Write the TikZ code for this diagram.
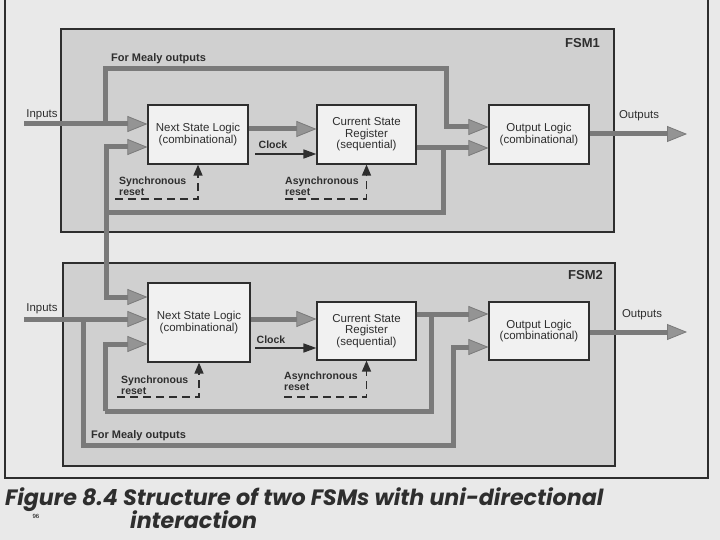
\documentclass[tikz,border=0pt]{standalone}
\usepackage{fontspec}
\setmainfont{Liberation Sans}
\newfontfamily\capfont{Poppins}
\usetikzlibrary{arrows.meta}
\definecolor{pagebg}{gray}{0.915}
\definecolor{fsmfill}{gray}{0.815}
\definecolor{blockfill}{gray}{0.945}
\definecolor{wire}{gray}{0.48}
\definecolor{tipfill}{gray}{0.58}
\definecolor{ink}{gray}{0.18}
\tikzset{
  fsmbox/.style={draw=ink, line width=1.5pt, fill=fsmfill},
  block/.style={draw=ink, line width=1.2pt, fill=blockfill, inner sep=0pt, align=center,
    font=\fontsize{11.5}{11.5}\selectfont, text=ink},
  fatline/.style={draw=wire, line width=5pt, line join=miter},
  fat/.style={fatline, -{Triangle[length=20pt,width=16pt,line width=0.8pt,fill=tipfill]}},
  clockarrow/.style={draw=ink, line width=1.6pt, -{Triangle[length=13pt,width=9pt]}},
  resetarrow/.style={draw=ink, line width=1.4pt, dash pattern=on 8pt off 5pt, -{Triangle[length=11pt,width=9pt]}},
  lbl/.style={font=\fontsize{11.4}{12}\selectfont, text=ink, inner sep=0pt},
  blbl/.style={font=\bfseries\fontsize{10.5}{10.5}\selectfont, text=ink, inner sep=0pt, align=left},
  mealylbl/.style={font=\bfseries\fontsize{11}{11}\selectfont, text=ink, inner sep=0pt},
  fsmlbl/.style={font=\bfseries\fontsize{13}{13}\selectfont, text=ink, inner sep=0pt},
  caption/.style={font=\capfont\bfseries\itshape\fontsize{22.2}{22}\selectfont, text=ink, inner sep=0pt}
}
\begin{document}
\begin{tikzpicture}[x=1pt,y=-1pt]
\useasboundingbox[fill=pagebg] (0,0) rectangle (720,540);
% outer frame
\draw[ink, line width=1.5pt] (5,-5) rectangle (708,478);

% FSM boxes
\node[fsmbox, minimum width=553pt, minimum height=203pt, inner sep=0pt] (fsm1) at (337.5,130.5) {};
\node[fsmbox, minimum width=552pt, minimum height=203pt, inner sep=0pt] (fsm2) at (339,364.5) {};
\node[fsmlbl, anchor=east] (fsm1lbl) at (600,43) {FSM1};
\node[fsmlbl, anchor=east] (fsm2lbl) at (603,275) {FSM2};

% ---------------- FSM1 ----------------
\node[block, minimum width=100pt, minimum height=59pt] (nsl1) at (198,134.5) {Next State Logic\\(combinational)};
\node[block, minimum width=99pt, minimum height=59pt] (csr1) at (366.5,134.5) {Current State\\Register\\(sequential)};
\node[block, minimum width=100pt, minimum height=59pt] (ol1) at (539,134.5) {Output Logic\\(combinational)};

\coordinate (in1) at (24,124);
\coordinate (m1a) at (105,124);
\coordinate (m1b) at (105,69);
\coordinate (m1c) at (446,69);
\coordinate (m1d) at (446,127);
\coordinate (f1) at (443,148);
\coordinate (f1b) at (443,213);
\coordinate (f1c) at (106,213);
\coordinate (f1d) at (106,147);
\coordinate (ck1) at (255,154);
\coordinate (sr1) at (115,199);
\coordinate (sr1b) at (198,199);
\coordinate (ar1) at (285,199);
\coordinate (ar1b) at (366.5,199);
\coordinate (out1) at (687,134);

\draw[fatline] (m1a) -- (m1b) -- (m1c) -- (m1d);
\draw[fat] (m1c) -- (m1d) -- (m1d -| ol1.west);
\draw[fat] (in1) -- (in1 -| nsl1.west);
\draw[fat] (nsl1.east |- 0,129) -- (csr1.west |- 0,129);
\draw[fat] (csr1.east |- f1) -- (f1 -| ol1.west);
\draw[fatline] (f1) -- (f1b) -- (f1c);
\draw[fat] (f1c) -- (f1d) -- (f1d -| nsl1.west);
\draw[fat] (ol1.east |- out1) -- (out1);
\node[lbl] (inlbl1) at (42,115) {Inputs};
\node[lbl] (outlbl1) at (639,116) {Outputs};
\node[mealylbl, anchor=west] (mealy1) at (111,59) {For Mealy outputs};
\node[blbl] (clk1) at (273,145) {Clock};
\draw[clockarrow] (ck1) -- (ck1 -| csr1.west);
\node[blbl, anchor=north west] (srl1) at (119,177) {Synchronous\\reset};
\node[blbl, anchor=north west] (arl1) at (285,177) {Asynchronous\\reset};
\draw[resetarrow] (sr1) -- (sr1b) -- (nsl1.south);
\draw[resetarrow] (ar1) -- (ar1b) -- (csr1.south);

% ---------------- FSM2 ----------------
\node[block, minimum width=102pt, minimum height=79pt] (nsl2) at (199,322.5) {Next State Logic\\(combinational)};
\node[block, minimum width=99pt, minimum height=58pt] (csr2) at (366.5,331) {Current State\\Register\\(sequential)};
\node[block, minimum width=100pt, minimum height=58pt] (ol2) at (539,331) {Output Logic\\(combinational)};

\coordinate (x1) at (106,297);
\coordinate (in2) at (24,319);
\coordinate (m2a) at (83,319);
\coordinate (m2b) at (83,445);
\coordinate (m2c) at (453,445);
\coordinate (m2d) at (453,347);
\coordinate (f2) at (431,314);
\coordinate (f2b) at (431,411);
\coordinate (f2c) at (105,411);
\coordinate (f2d) at (105,344);
\coordinate (ck2) at (255,348);
\coordinate (sr2) at (117,397);
\coordinate (sr2b) at (199,397);
\coordinate (ar2) at (284,397);
\coordinate (ar2b) at (366.5,397);
\coordinate (out2) at (687,332);

% interaction from FSM1 state to FSM2 next state logic
\draw[fat] (f1c) -- (x1) -- (x1 -| nsl2.west);

\draw[fatline] (m2a) -- (m2b) -- (m2c) -- (m2d);
\draw[fat] (m2c) -- (m2d) -- (m2d -| ol2.west);
\draw[fat] (in2) -- (in2 -| nsl2.west);
\draw[fat] (nsl2.east |- 0,319) -- (csr2.west |- 0,319);
\draw[fat] (csr2.east |- f2) -- (f2 -| ol2.west);
\draw[fatline] (f2) -- (f2b) -- (f2c);
\draw[fat] (f2c) -- (f2d) -- (f2d -| nsl2.west);
\draw[fat] (ol2.east |- out2) -- (out2);
\node[lbl] (inlbl2) at (42,309) {Inputs};
\node[lbl] (outlbl2) at (642,315) {Outputs};
\node[mealylbl, anchor=west] (mealy2) at (91,436) {For Mealy outputs};
\node[blbl] (clk2) at (271,340) {Clock};
\draw[clockarrow] (ck2) -- (ck2 -| csr2.west);
\node[blbl, anchor=north west] (srl2) at (121,376) {Synchronous\\reset};
\node[blbl, anchor=north west] (arl2) at (284,372) {Asynchronous\\reset};
\draw[resetarrow] (sr2) -- (sr2b) -- (nsl2.south);
\draw[resetarrow] (ar2) -- (ar2b) -- (csr2.south);

% caption
\node[caption, anchor=base west] (cap1) at (5,505) {Figure 8.4 Structure of two FSMs with uni-directional};
\node[caption, anchor=base west] (cap2) at (130,528) {interaction};
\node[font=\fontsize{6}{6}\selectfont, inner sep=0pt] (pg) at (36,516) {96};
\end{tikzpicture}
\end{document}
